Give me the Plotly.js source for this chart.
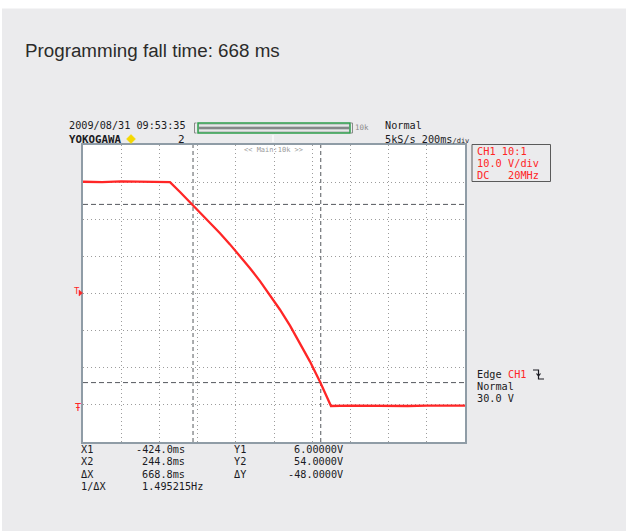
<!DOCTYPE html>
<html><head><meta charset="utf-8">
<script src="https://cdn.plot.ly/plotly-3.0.1.min.js"></script>
<style>html,body{margin:0;padding:0;background:#fff;} #chart{width:626px;height:531px;}</style>
</head><body><div id="chart"></div>
<script>
// ---- data ----
const timeS  = [-1.0, -0.9, -0.8, -0.7, -0.6, -0.5445, -0.4921, -0.4398, -0.3874, -0.3351, -0.2827, -0.2304, -0.178, -0.1257, -0.0733, -0.0209, 0.0314, 0.0838, 0.1361, 0.1885, 0.2408, 0.2984, 0.4, 0.5, 0.6, 0.7, 0.8, 0.9, 1.0];
const voltsV = [60.1, 60.0, 60.2, 60.1, 60.0, 60.0, 57.35, 54.63, 51.91, 49.1, 46.22, 43.23, 40.11, 36.82, 33.35, 29.6, 25.62, 21.33, 16.67, 11.66, 6.22, -0.3, -0.2, -0.3, -0.2, -0.3, -0.2, -0.3, -0.2];
const cursorX = [-0.424, 0.2448];
const cursorY = [6, 54];
const titleText = 'Programming fall time: 668 ms';
const headerLeft = ['2009/08/31 09:53:35', 'YOKOGAWA', '2'];
const headerRight = ['Normal', '5kS/s 200ms'];
const chLines = ['CH1 10:1', '10.0 V/div', 'DC', '20MHz'];
const trigLines = ['Edge', 'CH1', 'Normal', '30.0 V'];
const readLabelsX = ['X1', 'X2', 'ΔX', '1/ΔX'];
const readValuesX = ['-424.0ms', '244.8ms', '668.8ms', '1.495215Hz'];
const readLabelsY = ['Y1', 'Y2', 'ΔY'];
const readValuesY = ['6.00000V', '54.0000V', '-48.0000V'];

// ---- pixel helpers for decoration placement ----
const L = 83, R = 465, T = 145, B = 442;
const px = x => (x - L) / (R - L);
const py = y => (B - y) / (B - T);
const mono = 'DejaVu Sans Mono, monospace';
const ink = '#1a1a22';
const red = '#ff2626';
function ann(text, x, y, opt) {
  opt = opt || {};
  return Object.assign({
    text: text, xref: 'paper', yref: 'paper', x: px(x), y: py(y),
    xanchor: opt.anchor || 'left', yanchor: 'middle', showarrow: false,
    borderpad: 0, borderwidth: 0,
    font: {family: opt.family || mono, size: opt.size || 10.2, color: opt.color || ink, weight: opt.weight || 'normal'}
  }, opt.extra || {});
}
function rect(x0, y0, x1, y1, fill, line, lw, layer) {
  return {type: 'rect', xref: 'paper', yref: 'paper', x0: px(x0), x1: px(x1), y0: py(y1), y1: py(y0),
    fillcolor: fill || 'rgba(0,0,0,0)', line: {color: line || 'rgba(0,0,0,0)', width: lw || 0}, layer: layer || 'above'};
}
function seg(x0, y0, x1, y1, color, w, dash) {
  return {type: 'line', xref: 'paper', yref: 'paper', x0: px(x0), x1: px(x1), y0: py(y0), y1: py(y1),
    line: {color: color, width: w, dash: dash || 'solid'}, layer: 'above'};
}

const annotations = [
  ann(titleText, 25, 50, {family: 'Liberation Sans, Arial, sans-serif', size: 18.8, color: '#2b2b2b'}),
  ann(headerLeft[0], 69, 125),
  ann(headerLeft[1], 69, 139, {weight: 'bold', size: 10.8}),
  ann(headerLeft[2], 181, 139, {anchor: 'center', size: 11}),
  ann('10k', 355, 127, {size: 7.5, color: '#8a8a8a'}),
  ann(headerRight[0], 385, 125),
  ann(headerRight[1] + '<span style="font-size:7px">/div</span>', 385, 139),
  ann('&lt;&lt; Main:10k &gt;&gt;', 273, 150, {anchor: 'center', size: 7, color: '#9a9a9a'}),
  ann(chLines[0], 477, 151, {color: red, size: 10.3}),
  ann(chLines[1], 477, 163, {color: red, size: 10.3}),
  ann(chLines[2], 477, 175, {color: red, size: 10.3}),
  ann(chLines[3], 507.5, 175, {color: red, size: 10.3}),
  ann(trigLines[0], 477, 374),
  ann(trigLines[1], 508, 374, {color: red}),
  ann(trigLines[2], 477, 386),
  ann(trigLines[3], 477, 398),
  ann('T', 77, 291, {anchor: 'center', color: red, size: 9}),
  ann('Ŧ', 78, 407, {anchor: 'center', color: red, size: 10})
];
const rowY = [449, 461.7, 474, 486.7];
readLabelsX.forEach((t, i) => annotations.push(ann(t, 81, rowY[i])));
readValuesX.forEach((t, i) => annotations.push(ann(t, t.startsWith('-') ? 135.6 : 141.7, rowY[i])));
readLabelsY.forEach((t, i) => annotations.push(ann(t, 233.5, rowY[i])));
readValuesY.forEach((t, i) => annotations.push(ann(t, 343, rowY[i], {anchor: 'right'})));

const shapes = [
  rect(0, 0, 626, 8.5, '#ffffff', null, 0, 'below'),
  rect(0, 0, 2, 531, '#ffffff', null, 0, 'below'),
  rect(198, 123, 350, 133, '#c6caca', '#2f9e4c', 1.5),
  seg(199, 128, 349, 128, '#6e7272', 1.5),
  seg(199, 125.5, 349, 125.5, '#e6e8e8', 1),
  seg(199, 130.5, 349, 130.5, '#e6e8e8', 1),
  seg(194.5, 123, 194.5, 133, '#8a8a8a', 1), seg(194.5, 123, 196.5, 123, '#8a8a8a', 1), seg(194.5, 133, 196.5, 133, '#8a8a8a', 1),
  seg(352.5, 123, 352.5, 133, '#8a8a8a', 1), seg(350.5, 123, 352.5, 123, '#8a8a8a', 1), seg(350.5, 133, 352.5, 133, '#8a8a8a', 1),
  seg(273, 135, 273, 142, '#ffffff', 1.2),
  rect(472, 144.5, 550.5, 181.5, null, '#5a5a5a', 1),
  // yellow diamond next to YOKOGAWA
  {type: 'path', xref: 'paper', yref: 'paper', layer: 'above', fillcolor: '#f5d800', line: {color: '#f5d800', width: 0.5},
   path: `M ${px(131)} ${py(134.5)} L ${px(135.5)} ${py(139)} L ${px(131)} ${py(143.5)} L ${px(126.5)} ${py(139)} Z`},
  {type: 'path', xref: 'paper', yref: 'paper', layer: 'above', line: {color: ink, width: 1.2},
   path: `M ${px(533)} ${py(370)} L ${px(538.5)} ${py(370)} L ${px(538.5)} ${py(379)} L ${px(544)} ${py(379)} M ${px(536.5)} ${py(373.5)} L ${px(538.5)} ${py(376)} L ${px(540.5)} ${py(373.5)}`},
  {type: 'path', xref: 'paper', yref: 'paper', layer: 'above', fillcolor: red, line: {color: red, width: 0.5},
   path: `M ${px(79)} ${py(290)} L ${px(82.5)} ${py(293)} L ${px(79)} ${py(296)} Z`}
];
cursorX.forEach(v => shapes.push({type: 'line', xref: 'x', yref: 'paper', x0: v, x1: v, y0: 0, y1: 1,
  line: {color: '#55595e', width: 1, dash: '4px,3px'}, layer: 'below'}));
cursorY.forEach(v => shapes.push({type: 'line', xref: 'paper', yref: 'y', x0: 0, x1: 1, y0: v, y1: v,
  line: {color: '#55595e', width: 1, dash: '5px,3px'}, layer: 'below'}));

const trace = {x: timeS, y: voltsV, type: 'scatter', mode: 'lines',
  line: {color: red, width: 2.3}, hoverinfo: 'skip'};

const axisCommon = {showgrid: true, gridcolor: '#9c9c9c', griddash: '1px,3px', gridwidth: 1,
  zeroline: false, showticklabels: false, ticks: '', showline: true, mirror: true,
  linecolor: '#8f9ca6', linewidth: 2, fixedrange: true};

const layout = {
  width: 626, height: 531,
  margin: {l: L, r: 626 - R, t: T, b: 531 - B, pad: 0},
  paper_bgcolor: '#ebebed', plot_bgcolor: '#ffffff',
  showlegend: false,
  xaxis: Object.assign({range: [-1, 1], dtick: 0.2, tick0: -1}, axisCommon),
  yaxis: Object.assign({range: [-10, 70], dtick: 10, tick0: -10}, axisCommon),
  annotations: annotations, shapes: shapes
};
Plotly.newPlot('chart', [trace], layout, {staticPlot: true, displayModeBar: false});
</script></body></html>
